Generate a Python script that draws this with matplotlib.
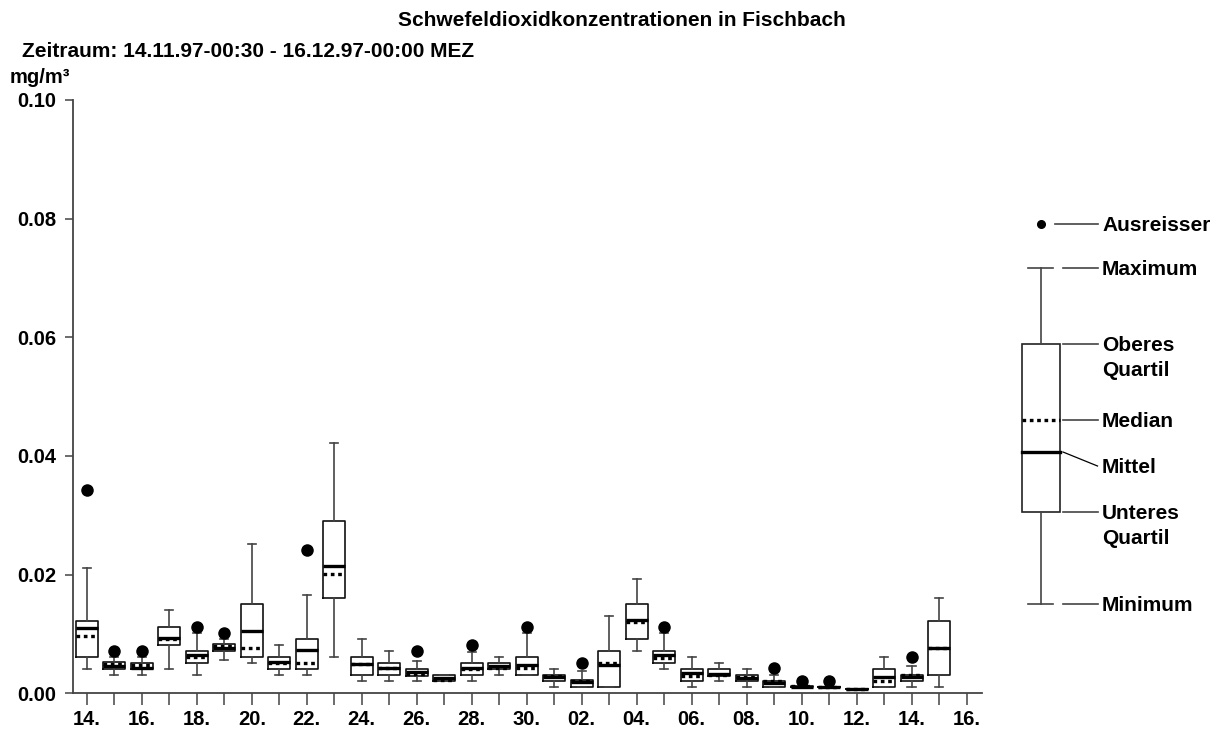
import matplotlib
matplotlib.use("Agg")
import matplotlib.pyplot as plt
import numpy as np

plt.rcParams['font.family'] = ['Liberation Sans', 'DejaVu Sans']
plt.rcParams['font.weight'] = 'bold'

# ---- data (mg/m³), one box per day 14.11.97 .. 15.12.97 ----
days = ["14.11", "15.11", "16.11", "17.11", "18.11", "19.11", "20.11", "21.11",
        "22.11", "23.11", "24.11", "25.11", "26.11", "27.11", "28.11", "29.11",
        "30.11", "01.12", "02.12", "03.12", "04.12", "05.12", "06.12", "07.12",
        "08.12", "09.12", "10.12", "11.12", "12.12", "13.12", "14.12", "15.12"]
maximum = [0.0211, 0.0062, 0.0061, 0.0141, 0.0101, 0.0091, 0.0251, 0.0082,
           0.0166, 0.0422, 0.0091, 0.0071, 0.0055, 0.0031, 0.0070, 0.0061,
           0.0101, 0.0041, 0.0037, 0.0131, 0.0192, 0.0101, 0.0061, 0.0051,
           0.0041, 0.0031, 0.0013, 0.0011, 0.0008, 0.0061, 0.0046, 0.0161]
upper_q = [0.0122, 0.0052, 0.0051, 0.0111, 0.0071, 0.0083, 0.0151, 0.0061,
           0.0091, 0.0291, 0.0061, 0.0051, 0.0041, 0.0031, 0.0051, 0.0051,
           0.0061, 0.0031, 0.0022, 0.0071, 0.0151, 0.0071, 0.0041, 0.0041,
           0.0031, 0.0021, 0.0013, 0.0011, 0.0008, 0.0041, 0.0031, 0.0122]
mean_v = [0.0110, 0.0046, 0.0043, 0.0094, 0.0065, 0.0076, 0.0105, 0.0052,
          0.0073, 0.0215, 0.0050, 0.0043, 0.0036, 0.0025, 0.0043, 0.0046,
          0.0047, 0.0028, 0.0019, 0.0047, 0.0123, 0.0064, 0.0034, 0.0033,
          0.0025, 0.0018, 0.0011, 0.0010, 0.0007, 0.0027, 0.0027, 0.0077]
median_v = [0.0096, 0.0049, 0.0047, 0.0091, 0.0061, 0.0080, 0.0076, 0.0051,
            0.0051, 0.0201, 0.0049, 0.0042, 0.0033, 0.0022, 0.0041, 0.0043,
            0.0042, 0.0030, 0.0021, 0.0051, 0.0121, 0.0060, 0.0030, 0.0031,
            0.0027, 0.0021, 0.0012, 0.0010, 0.0007, 0.0021, 0.0031, 0.0076]
lower_q = [0.0061, 0.0041, 0.0041, 0.0082, 0.0051, 0.0071, 0.0061, 0.0041,
           0.0041, 0.0161, 0.0031, 0.0031, 0.0030, 0.0020, 0.0031, 0.0041,
           0.0031, 0.0021, 0.0011, 0.0011, 0.0091, 0.0051, 0.0021, 0.0030,
           0.0021, 0.0011, 0.0010, 0.0010, 0.0007, 0.0011, 0.0021, 0.0031]
minimum = [0.0041, 0.0031, 0.0031, 0.0041, 0.0031, 0.0056, 0.0051, 0.0031,
           0.0031, 0.0061, 0.0021, 0.0021, 0.0021, 0.0020, 0.0021, 0.0031,
           0.0031, 0.0011, 0.0011, 0.0011, 0.0071, 0.0041, 0.0011, 0.0021,
           0.0011, 0.0011, 0.0010, 0.0010, 0.0007, 0.0011, 0.0011, 0.0011]
outlier = [0.0342, 0.0072, 0.0072, None, 0.0112, 0.0102, None, None,
           0.0241, None, None, None, 0.0072, None, 0.0082, None,
           0.0112, None, 0.0051, None, None, 0.0112, None, None,
           None, 0.0042, 0.0021, 0.0021, None, None, 0.0062, None]

tick_labels = ["14.", "", "16.", "", "18.", "", "20.", "", "22.", "", "24.", "",
               "26.", "", "28.", "", "30.", "", "02.", "", "04.", "", "06.", "",
               "08.", "", "10.", "", "12.", "", "14.", "", "16."]
y_ticks = [0.00, 0.02, 0.04, 0.06, 0.08, 0.10]

W, H = 1223, 729
fig = plt.figure(figsize=(W / 100, H / 100), dpi=100)
ax = fig.add_axes([72.5 / W, 1 - 693.3 / H, (981.7 - 72.5) / W, (693.3 - 100) / H])

stats = []
for i in range(len(days)):
    stats.append(dict(whislo=minimum[i], q1=lower_q[i], med=median_v[i],
                      mean=mean_v[i], q3=upper_q[i], whishi=maximum[i],
                      fliers=[] if outlier[i] is None else [outlier[i]],
                      label=days[i]))

positions = np.arange(len(days))
ax.bxp(stats, positions=positions, widths=0.8, capwidths=0.3,
       showmeans=True, meanline=True, showfliers=True,
       boxprops=dict(color='#111111', lw=1.2),
       whiskerprops=dict(color='#444444', lw=1.2),
       capprops=dict(color='#444444', lw=1.2),
       medianprops=dict(color='black', lw=2.4, ls=(0, (1.1, 1.1))),
       meanprops=dict(color='black', lw=2.4, ls='-'),
       flierprops=dict(marker='o', markerfacecolor='black',
                       markeredgecolor='black', markersize=8))

ax.set_xlim(-0.52, 32.55)
ax.set_ylim(0, 0.10)
ax.set_xticks(np.arange(len(tick_labels)))
ax.set_xticklabels(tick_labels)
ax.set_yticks(y_ticks)
ax.set_yticklabels([f"{v:.2f}" for v in y_ticks])
for s in ['top', 'right']:
    ax.spines[s].set_visible(False)
for s in ['left', 'bottom']:
    ax.spines[s].set_color('#444444')
    ax.spines[s].set_linewidth(1.3)
ax.tick_params(axis='x', length=8.6, width=1.1, color='#444444', pad=3.5,
               labelsize=14.5)
ax.tick_params(axis='y', length=5.5, width=1.1, color='#444444', pad=6,
               labelsize=14.5)
for lab in ax.get_xticklabels() + ax.get_yticklabels():
    lab.set_fontweight('bold')

# ---- texts ----
fig.text(622 / W, 1 - 25.5 / H, "Schwefeldioxidkonzentrationen in Fischbach",
         ha='center', va='baseline', fontsize=15, fontweight='bold')
fig.text(22 / W, 1 - 57 / H, "Zeitraum: 14.11.97-00:30 - 16.12.97-00:00 MEZ",
         ha='left', va='baseline', fontsize=15, fontweight='bold')
fig.text(10 / W, 1 - 83 / H, "mg/m³", ha='left', va='baseline',
         fontsize=14.5, fontweight='bold')

# ---- explanatory legend (pixel coordinates) ----
lg = fig.add_axes([0, 0, 1, 1], zorder=5)
lg.set_xlim(0, W)
lg.set_ylim(H, 0)
lg.axis('off')
lg.patch.set_alpha(0)

gc = '#444444'
lg.plot([1040.5], [224], 'o', color='black', ms=5.5)
lg.plot([1028, 1053], [268, 268], color=gc, lw=1.2)
lg.plot([1040.5, 1040.5], [268, 344], color=gc, lw=1.2)
lg.add_patch(plt.Rectangle((1021.7, 344), 38.3, 168, fill=False,
                           edgecolor='#222222', lw=1.2))
lg.plot([1021.7, 1060], [420, 420], color='black', lw=2.4, ls=(0, (1.1, 1.1)))
lg.plot([1021.7, 1060], [451.5, 451.5], color='black', lw=2.4)
lg.plot([1040.5, 1040.5], [512, 604], color=gc, lw=1.2)
lg.plot([1028, 1053], [604, 604], color=gc, lw=1.2)

lg.plot([1055, 1097.5], [224, 224], color=gc, lw=1.2)
for yy in [268, 344, 420, 512, 604]:
    lg.plot([1063, 1097.5], [yy, yy], color=gc, lw=1.2)
lg.plot([1063, 1097.5], [452, 466], color='black', lw=0.9)

cap_half = 7.3
for txt, yc in [("Ausreisser", 224), ("Maximum", 268), ("Oberes", 344),
                ("Quartil", 369), ("Median", 420), ("Mittel", 466),
                ("Unteres", 512), ("Quartil", 537), ("Minimum", 604)]:
    lg.text(1102, yc + cap_half, txt, ha='left', va='baseline', fontsize=15,
            fontweight='bold')

fig.savefig("out.png", dpi=100)
